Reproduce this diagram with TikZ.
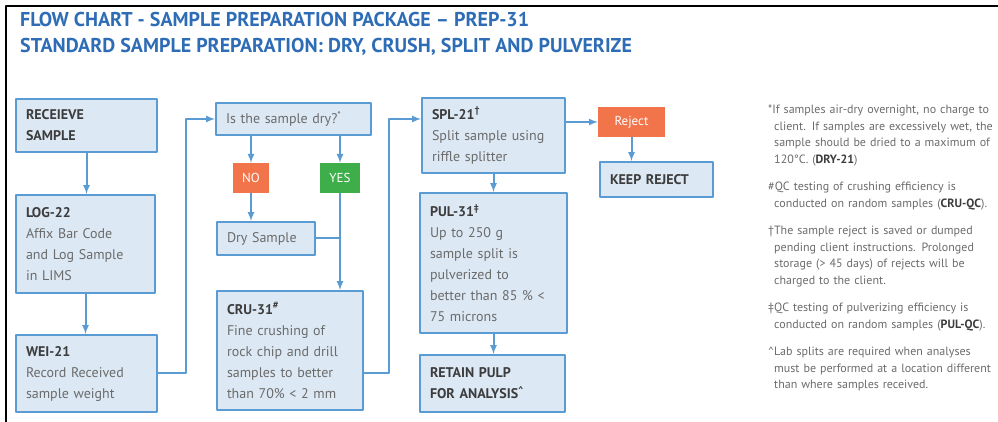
\documentclass[tikz,border=0pt]{standalone}
\usepackage{fontspec}
\setmainfont{PT Sans}
\usetikzlibrary{arrows}
\definecolor{boxblue}{HTML}{5B9BD3}
\definecolor{boxfill}{HTML}{DCE8F4}
\definecolor{titleblue}{HTML}{2E6DB5}
\definecolor{noorange}{HTML}{F2744B}
\definecolor{yesgreen}{HTML}{3DAE49}
\definecolor{headgray}{HTML}{3C3C3C}
\definecolor{bodygray}{HTML}{6B6B6B}
\newcommand{\boxhead}[1]{{\bfseries\color{headgray}#1}}
\newcommand{\notepar}[1]{\hangindent=6pt\hangafter=1 #1\par\vspace{11pt}}
\begin{document}
\begin{tikzpicture}[x=1pt,y=1pt,>=latex,line join=bevel,
  stepbox/.style={draw=boxblue,fill=boxfill,line width=2pt,align=left,inner xsep=10pt,inner ysep=4pt,
    font=\fontsize{14}{21}\selectfont,text=bodygray},
  tagbox/.style={fill=#1,text=white,font=\fontsize{13}{15}\selectfont,minimum height=30pt,inner xsep=3pt},
  flow/.style={boxblue,line width=2pt,->},]
\useasboundingbox (0,0) rectangle (998,422);
\draw [black,line width=2pt] (6,0) -- (6,416) -- (998,416);
%%
\node (node_title1) at (20,402) [anchor=west,inner sep=0pt,text=titleblue,font=\fontsize{20}{22}\bfseries] {FLOW CHART - SAMPLE PREPARATION PACKAGE – PREP-31};
\node (node_title2) at (20,375) [anchor=west,inner sep=0pt,text=titleblue,font=\fontsize{20}{22}\bfseries] {STANDARD SAMPLE PREPARATION: DRY, CRUSH, SPLIT AND PULVERIZE};
%
\node (node_recv) at (86.5,296.5) [stepbox,text width=121pt,minimum height=53pt] {\boxhead{RECEIEVE\\SAMPLE}};
\node (node_log) at (85.5,178) [stepbox,text width=119pt,minimum height=98pt] {\boxhead{LOG-22}\\Affix Bar Code\\and Log Sample\\in LIMS};
\node (node_wei) at (86.5,48.5) [stepbox,text width=121pt,minimum height=77pt] {\boxhead{WEI-21}\\Record Received\\sample weight};
\node (node_dry) at (293.5,303) [stepbox,text width=135pt,minimum height=32pt] {Is the sample dry?\textsuperscript{*}};
\node (node_no) at (251,244) [tagbox=noorange,minimum width=36pt] {NO};
\node (node_yes) at (340,244) [tagbox=yesgreen,minimum width=40pt] {YES};
\node (node_drys) at (266,183.5) [stepbox,text width=78pt,minimum height=33pt] {Dry Sample};
\node (node_cru) at (290,71.5) [stepbox,text width=126pt,minimum height=119pt] {\boxhead{CRU-31\textsuperscript{\#}}\\Fine crushing of\\rock chip and drill\\samples to better\\than 70\% < 2 mm};
\node (node_spl) at (493.5,286.5) [stepbox,text width=123pt,minimum height=75pt] {\boxhead{SPL-21\textsuperscript{†}}\\Split sample using\\riffle splitter};
\node (node_rej) at (631.5,300) [tagbox=noorange,minimum width=67pt] {Reject};
\node (node_keep) at (656.5,242.5) [stepbox,text width=93pt,minimum height=35pt] {\boxhead{KEEP REJECT}};
\node (node_pul) at (493.5,159) [stepbox,text width=127pt,minimum height=140pt] {\boxhead{PUL-31\textsuperscript{‡}}\\Up to 250 g\\sample split is\\pulverized to\\better than 85 \% <\\75 microns};
\node (node_ret) at (492.5,38.5) [stepbox,text width=125pt,minimum height=57pt] {\boxhead{RETAIN PULP\\FOR ANALYSIS\textsuperscript{\textasciicircum}}};
%
\draw [flow] (node_recv.south) -- (node_recv.south |- node_log.north);
\draw [flow] (node_log.south) -- (node_log.south |- node_wei.north);
\draw [flow] (node_wei.east) -- ++(28,0) |- (node_dry.west);
\draw [flow] (node_no.north |- node_dry.south) -- (node_no);
\draw [flow] (node_yes.north |- node_dry.south) -- (node_yes);
\draw [flow] (node_no) -- (node_no |- node_drys.north);
\draw [boxblue,line width=2pt] (node_drys.east) -- (node_drys.east -| node_yes);
\draw [flow] (node_yes) -- (node_yes |- node_cru.north);
\draw [flow] (node_cru.east |- node_wei.east) -- ++(25,0) |- (node_spl.west |- node_dry.west);
\draw [flow] (node_spl.east |- node_rej.west) -- (node_rej.west);
\draw [flow] (node_rej) -- (node_rej |- node_keep.north);
\draw [flow] (node_spl) -- (node_pul);
\draw [flow] (node_pul.south) -- (node_pul.south |- node_ret.north);
%
\node (node_notes) at (768,317) [anchor=north west,inner sep=0pt,text width=232pt,align=left,text=bodygray,font=\fontsize{12}{16.5}\selectfont] {%
\notepar{*If samples air-dry overnight, no charge to\newline client. If samples are excessively wet, the\newline sample should be dried to a maximum of\newline 120°C. (\textbf{\color{headgray}DRY-21})}%
\notepar{\#QC testing of crushing efficiency is\newline conducted on random samples (\textbf{\color{headgray}CRU-QC}).}%
\notepar{†The sample reject is saved or dumped\newline pending client instructions. Prolonged\newline storage (> 45 days) of rejects will be\newline charged to the client.}%
\notepar{‡QC testing of pulverizing efficiency is\newline conducted on random samples (\textbf{\color{headgray}PUL-QC}).}%
\notepar{\textasciicircum Lab splits are required when analyses\newline must be performed at a location different\newline than where samples received.}};
%
\end{tikzpicture}
\end{document}
